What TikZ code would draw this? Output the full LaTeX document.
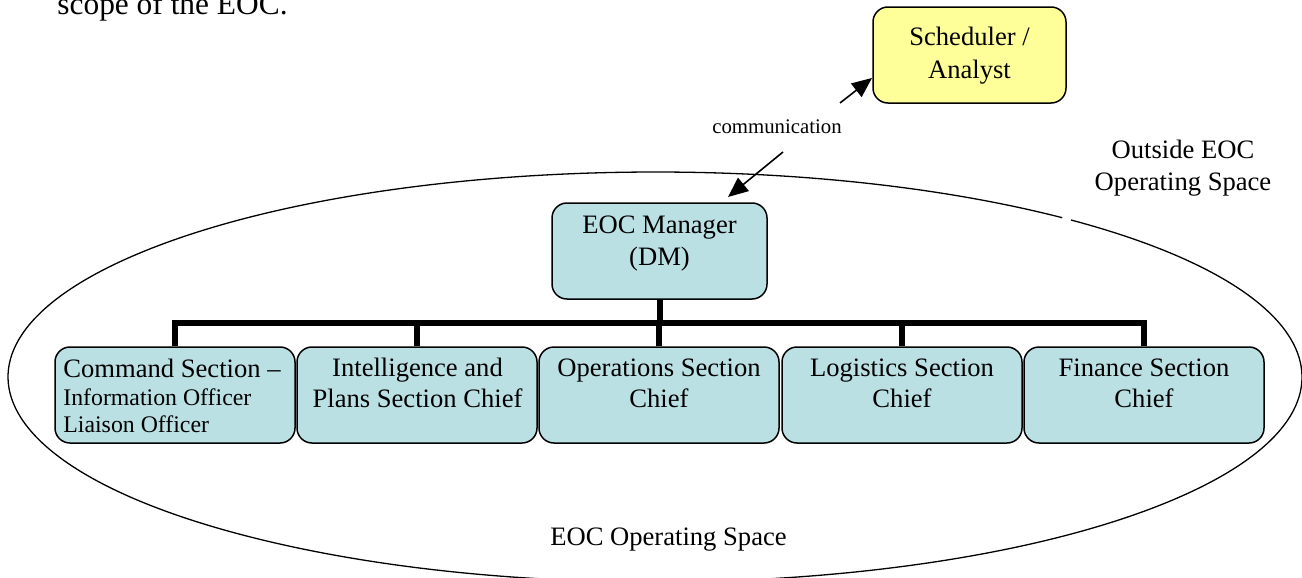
\documentclass[tikz,border=0pt]{standalone}
\usepackage{fontspec}
\setmainfont{Liberation Serif}
\usetikzlibrary{arrows.meta}
\definecolor{boxblue}{RGB}{187,224,227}
\definecolor{boxyellow}{RGB}{255,255,153}
\newcommand{\mainf}{\fontsize{13.3}{15.5}\selectfont}
\newcommand{\smallf}{\fontsize{11.9}{13.5}\selectfont}
\begin{document}
\begin{tikzpicture}[x=0.5pt,y=0.5pt,
  box/.style={draw=black, line width=0.75pt, rounded corners=7.5pt,
    minimum width=120pt, minimum height=48pt, inner sep=0pt, fill=boxblue},
  ybox/.style={box, fill=boxyellow, minimum width=96.5pt},
  txt/.style={font=\mainf, align=center, inner sep=0pt, anchor=base},
  bar/.style={line width=3pt},
  arr/.style={-{Triangle[length=10pt,width=8.5pt]}, line width=0.8pt},
  ell/.style={line width=0.65pt}]
\useasboundingbox (0,0) rectangle (1302,-578);
\clip (0,0) rectangle (1302,-578);

% body text fragment
\node[font=\fontsize{15.7}{18}\selectfont, inner sep=0pt, anchor=base west] (scope) at (57,-15) {scope of the EOC.};

% ellipse (operating space) with a small break on the upper right
\draw[ell] (1062.2,-217.7) arc[start angle=51, end angle=410, x radius=647, y radius=205];

% boxes
\node[box] (com) at (175,-395) {};
\node[box] (int) at (417,-395) {};
\node[box] (ops) at (659,-395) {};
\node[box] (log) at (902,-395) {};
\node[box] (fin) at (1144,-395) {};
\node[box, minimum width=107.5pt] (mgr) at (659.5,-251) {};
\node[ybox] (sch) at (969.5,-55) {};

% org-chart bar
\coordinate (bary) at (0,-323);
\draw[bar] (com.north) -- (com.north |- bary) -- (fin.north |- bary) -- (fin.north);
\foreach \n in {int,ops,log} \draw[bar] (\n.north) -- (\n.north |- bary);
\draw[bar] (mgr.south) -- (mgr.south |- bary);

% texts (anchor = baseline of the last line)
\node[txt] (scht) at (969.5,-78) {Scheduler /\\[1pt]Analyst};
\node[txt] (mgrt) at (659.5,-265) {EOC Manager\\[0.5pt](DM)};
\node[txt, anchor=base west, align=left] (comt) at (63,-432)
  {Command Section –\\[-1.5pt]{\smallf Information Officer}\\[-2pt]{\smallf Liaison Officer}};
\node[txt] (intt) at (417.5,-407) {Intelligence and\\Plans Section Chief};
\node[txt] (opst) at (659,-407) {Operations Section\\Chief};
\node[txt] (logt) at (902,-407) {Logistics Section\\Chief};
\node[txt] (fint) at (1144,-407) {Finance Section\\Chief};
\node[txt] (outt) at (1183,-190) {Outside EOC\\[0.5pt]Operating Space};
\node[txt] (inst) at (668.5,-545) {EOC Operating Space};
\node[txt, font=\fontsize{10.4}{12}\selectfont] (comm) at (777,-133) {communication};

% communication arrows
\coordinate (a1s) at (840,-103);
\coordinate (a1e) at (872,-78);
\coordinate (a2s) at (783,-152);
\coordinate (a2e) at (728,-197);
\draw[arr] (a1s) -- (a1e);
\draw[arr] (a2s) -- (a2e);
\end{tikzpicture}
\end{document}
